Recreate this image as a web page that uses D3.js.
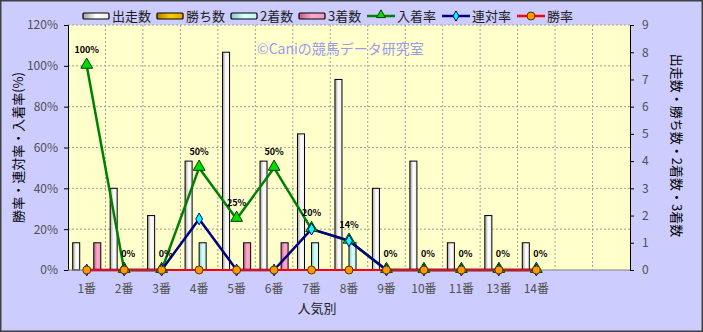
<!DOCTYPE html>
<html>
<head>
<meta charset="utf-8">
<script src="https://cdn.jsdelivr.net/npm/d3@7"></script>
<style>
  body { margin: 0; background: #fff; }
  svg text { font-family: "Noto Sans CJK JP", "DejaVu Sans", sans-serif; }
</style>
</head>
<body>
<div id="chart"></div>
<script>
// categories (popularity rank) and the values
const categories = ['1番','2番','3番','4番','5番','6番','7番','8番','9番','10番','11番','13番','14番'];
const runs   = [1, 3, 2, 4, 8, 4, 5, 7, 3, 4, 1, 2, 1];   // 出走数
const wins   = [0, 0, 0, 0, 0, 0, 0, 0, 0, 0, 0, 0, 0];   // 勝ち数
const second = [0, 0, 0, 1, 0, 0, 1, 1, 0, 0, 0, 0, 0];   // 2着数
const third  = [1, 0, 0, 0, 1, 1, 0, 0, 0, 0, 0, 0, 0];   // 3着数
const placeRate = [100, 0, 0, 50, 25, 50, 20, 14.3, 0, 0, 0, 0, 0]; // 入着率
const rentaiRate = [0, 0, 0, 25, 0, 0, 20, 14.3, 0, 0, 0, 0, 0];    // 連対率
const winRate = [0, 0, 0, 0, 0, 0, 0, 0, 0, 0, 0, 0, 0];            // 勝率
const placeLabels = ['100%','0%','0%','50%','25%','50%','20%','14%','0%','0%','0%','0%','0%'];
const pctTicks = [0, 20, 40, 60, 80, 100, 120];
const cntTicks = [0, 1, 2, 3, 4, 5, 6, 7, 8, 9];
const slotCount = 15; // plot has room for two more empty ranks

const W = 703, H = 332;
const m = {t: 25, r: 73, b: 62, l: 68};
const w = W - m.l - m.r, h = H - m.t - m.b;

const svg = d3.select('#chart').append('svg').attr('width', W).attr('height', H);
const defs = svg.append('defs');

function grad(id, stops){
    const g = defs.append('linearGradient').attr('id', id)
        .attr('x1', '0%').attr('x2', '100%').attr('y1', '0%').attr('y2', '0%');
    stops.forEach(function(s, i){
        g.append('stop').attr('offset', (i / (stops.length - 1) * 100) + '%').attr('stop-color', s);
    });
}
grad('gRun',  ['#a0a0a0', '#ffffff', '#ececec']);
grad('gWin',  ['#b08000', '#ffcc00', '#e0a800']);
grad('gSec',  ['#88c8c8', '#d8ffff', '#c0f4f4']);
grad('gThi',  ['#c06088', '#ffa8cc', '#f098c0']);

const series = [
    {name: '出走数', vals: runs,   fill: 'url(#gRun)'},
    {name: '勝ち数', vals: wins,   fill: 'url(#gWin)'},
    {name: '2着数',  vals: second, fill: 'url(#gSec)'},
    {name: '3着数',  vals: third,  fill: 'url(#gThi)'}
];

// background + border
svg.append('rect').attr('x', 0.5).attr('y', 0.5).attr('width', W - 1).attr('height', H - 1)
    .attr('fill', '#ccccff').attr('stroke', '#404040').attr('stroke-width', 2);

const g = svg.append('g').attr('transform', 'translate(' + m.l + ',' + m.t + ')');
g.append('rect').attr('width', w).attr('height', h).attr('fill', '#ffffcc');

// scales
const x = d3.scaleBand().domain(d3.range(slotCount)).range([0, w]).paddingInner(0).paddingOuter(0);
const xs = d3.scaleBand().domain(d3.range(series.length)).range([x.bandwidth() * 0.125, x.bandwidth() * 0.875]);
const yP = d3.scaleLinear().domain([0, 120]).range([h, 0]);
const yC = d3.scaleLinear().domain([0, 9]).range([h, 0]);
const cx = function(i){ return x(i) + x.bandwidth() / 2; };

// gridlines
g.append('g').selectAll('line').data(pctTicks.filter(function(t){ return t > 0; })).enter().append('line')
    .attr('x1', 0).attr('x2', w).attr('y1', function(d){ return yP(d); }).attr('y2', function(d){ return yP(d); })
    .attr('stroke', '#a0a0a0').attr('stroke-dasharray', '2,2');
g.append('g').selectAll('line').data(d3.range(1, slotCount)).enter().append('line')
    .attr('x1', function(d){ return x(d); }).attr('x2', function(d){ return x(d); })
    .attr('y1', 0).attr('y2', h)
    .attr('stroke', '#a0a0a0').attr('stroke-dasharray', '2,2');

// watermark
g.append('text').attr('x', 189).attr('y', 29).text('©Caniの競馬データ研究室')
    .attr('fill', '#9a9aee').attr('font-size', 14);

// bars (skip zero counts, keep the category index)
series.forEach(function(s, si){
    const pts = s.vals.map(function(v, i){ return {i: i, v: v}; }).filter(function(d){ return d.v > 0; });
    g.append('g').selectAll('rect').data(pts).enter().append('rect')
        .attr('x', function(d){ return x(d.i) + xs(si); })
        .attr('y', function(d){ return yC(d.v); })
        .attr('width', xs.bandwidth())
        .attr('height', function(d){ return yC(0) - yC(d.v); })
        .attr('fill', s.fill).attr('stroke', '#000').attr('stroke-width', 1);
});

// axes
const axL = d3.axisLeft(yP).tickValues(pctTicks).tickFormat(function(d){ return d + '%'; }).tickSize(4).tickPadding(6);
const axR = d3.axisRight(yC).tickValues(cntTicks).tickSize(4).tickPadding(8);
const gl = g.append('g').call(axL);
const gr = g.append('g').attr('transform', 'translate(' + w + ',0)').call(axR);
[gl, gr].forEach(function(a){
    a.selectAll('text').attr('font-size', 12).attr('fill', '#505050');
    a.selectAll('.domain, .tick line').attr('stroke', '#000');
});
g.append('line').attr('x1', 0).attr('x2', w).attr('y1', h).attr('y2', h).attr('stroke', '#808080');

// x labels
g.append('g').selectAll('text').data(categories).enter().append('text')
    .attr('x', function(d, i){ return cx(i); }).attr('y', h + 23)
    .attr('text-anchor', 'middle').attr('font-size', 12).attr('fill', '#505050')
    .text(function(d){ return d; });

// lines
const lineP = d3.line().x(function(d, i){ return cx(i); }).y(function(d){ return yP(d); });
function drawLine(vals, color, width){
    g.append('path').datum(vals).attr('d', lineP).attr('fill', 'none')
        .attr('stroke', color).attr('stroke-width', width).attr('stroke-linejoin', 'round');
}
drawLine(placeRate, '#008000', 2.5);
drawLine(rentaiRate, '#000080', 2.5);
drawLine(winRate, '#ff0000', 2);

// markers
const tri = d3.symbol().type(d3.symbolTriangle).size(60);
const dia = d3.symbol().type(d3.symbolDiamond).size(40);
g.append('g').selectAll('path').data(placeRate).enter().append('path')
    .attr('d', tri).attr('transform', function(d, i){ return 'translate(' + cx(i) + ',' + (yP(d) - 1) + ')'; })
    .attr('fill', '#00dd00').attr('stroke', '#004000').attr('stroke-width', 1);
g.append('g').selectAll('path').data(rentaiRate).enter().append('path')
    .attr('d', dia).attr('transform', function(d, i){ return 'translate(' + cx(i) + ',' + yP(d) + ')'; })
    .attr('fill', '#00ffff').attr('stroke', '#000080').attr('stroke-width', 1);
g.append('g').selectAll('circle').data(winRate).enter().append('circle')
    .attr('cx', function(d, i){ return cx(i); }).attr('cy', function(d){ return yP(d); }).attr('r', 4)
    .attr('fill', '#ff9900').attr('stroke', '#603000').attr('stroke-width', 1);

// data labels for 入着率
g.append('g').selectAll('text').data(placeRate).enter().append('text')
    .attr('x', function(d, i){ return cx(i) + (d === 0 ? 4 : 0); })
    .attr('y', function(d){ return yP(d) - 13; })
    .attr('text-anchor', 'middle').attr('font-size', 9).attr('font-weight', 'bold').attr('fill', '#000')
    .text(function(d, i){ return placeLabels[i]; });

// axis titles
svg.append('text').attr('transform', 'translate(23,' + (m.t + h / 2) + ') rotate(-90)')
    .attr('text-anchor', 'middle').attr('font-size', 13).attr('fill', '#000')
    .text('勝率・連対率・入着率(%)');
svg.append('text').attr('transform', 'translate(672,' + (m.t + h / 2 - 2) + ') rotate(90)')
    .attr('text-anchor', 'middle').attr('font-size', 13).attr('fill', '#000')
    .text('出走数・勝ち数・2着数・3着数');
svg.append('text').attr('x', m.l + w / 2 - 32).attr('y', 313)
    .attr('text-anchor', 'middle').attr('font-size', 13).attr('fill', '#202020').text('人気別');

// legend
const legBars = [
    {name: '出走数', fill: 'url(#gRun)', x: 83},
    {name: '勝ち数', fill: 'url(#gWin)', x: 157},
    {name: '2着数',  fill: 'url(#gSec)', x: 231},
    {name: '3着数',  fill: 'url(#gThi)', x: 299}
];
const legLines = [
    {name: '入着率', color: '#008000', x: 367, mk: 'tri'},
    {name: '連対率', color: '#000080', x: 442, mk: 'dia'},
    {name: '勝率',   color: '#ff0000', x: 517, mk: 'cir'}
];
const ly = 16;
const lg = svg.append('g');
legBars.forEach(function(d){
    lg.append('rect').attr('x', d.x).attr('y', ly - 3).attr('width', 26).attr('height', 6)
        .attr('rx', 1).attr('fill', d.fill).attr('stroke', '#000').attr('stroke-width', 1.2);
    lg.append('text').attr('x', d.x + 29).attr('y', ly + 5).attr('font-size', 13).attr('fill', '#202020').text(d.name);
});
legLines.forEach(function(d){
    lg.append('line').attr('x1', d.x).attr('x2', d.x + 28).attr('y1', ly).attr('y2', ly)
        .attr('stroke', d.color).attr('stroke-width', 2.5);
    const mx = d.x + 14;
    if (d.mk === 'tri') {
        lg.append('path').attr('d', d3.symbol().type(d3.symbolTriangle).size(35))
            .attr('transform', 'translate(' + mx + ',' + (ly - 1) + ')')
            .attr('fill', '#00dd00').attr('stroke', '#004000');
    } else if (d.mk === 'dia') {
        lg.append('path').attr('d', d3.symbol().type(d3.symbolDiamond).size(30))
            .attr('transform', 'translate(' + mx + ',' + ly + ')')
            .attr('fill', '#00ffff').attr('stroke', '#000080');
    } else {
        lg.append('circle').attr('cx', mx).attr('cy', ly).attr('r', 4)
            .attr('fill', '#ff9900').attr('stroke', '#603000');
    }
    lg.append('text').attr('x', d.x + 30).attr('y', ly + 5).attr('font-size', 13).attr('fill', '#202020').text(d.name);
});
</script>
</body>
</html>
